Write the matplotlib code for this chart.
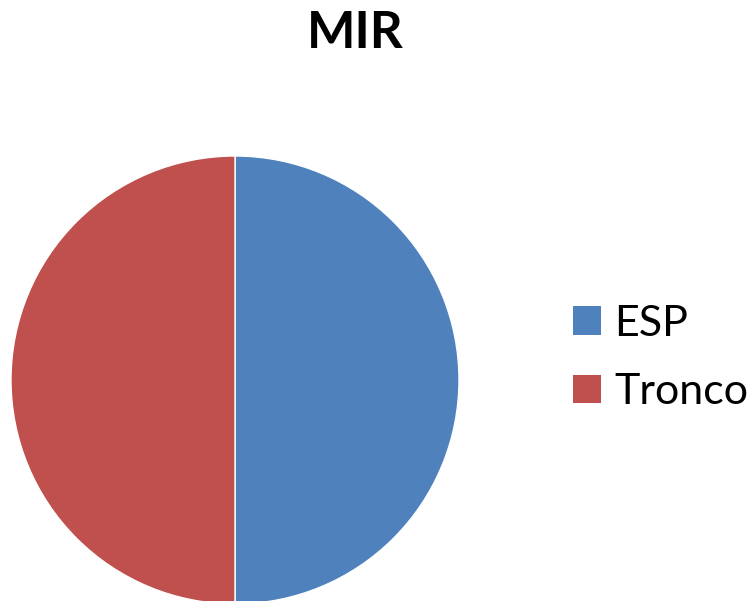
import matplotlib.pyplot as plt
from matplotlib.patches import Patch

labels = ['ESP', 'Tronco']
values = [50, 50]
colors = ['#4F81BD', '#C0504D']

plt.rcParams['font.family'] = ['Lato', 'DejaVu Sans']

fig = plt.figure(figsize=(7.49, 6.01), dpi=100)
# pie centred at about (235, 380) px, radius ~224 px
r = 224
ax = fig.add_axes([(235 - r) / 749, (601 - 380 - r) / 601, 2 * r / 749, 2 * r / 601])
ax.pie(values, colors=colors, startangle=90, counterclock=False,
       wedgeprops=dict(edgecolor='white', linewidth=1))
ax.set_xlim(-1, 1)
ax.set_ylim(-1, 1)
ax.set_aspect('auto')
ax.axis('off')

fig.text(355 / 749, 1 - 33 / 601, 'MIR', ha='center', va='center',
         fontsize=37, fontweight='bold')

handles = [Patch(facecolor=c, edgecolor='none') for c in colors]
fig.legend(handles, labels, loc='center left', bbox_to_anchor=(573 / 749, 1 - 358 / 601),
           frameon=False, fontsize=31, handlelength=0.65, handleheight=0.65,
           handletextpad=0.3, labelspacing=0.7, borderaxespad=0, borderpad=0)

fig.savefig('out.png', dpi=100)
